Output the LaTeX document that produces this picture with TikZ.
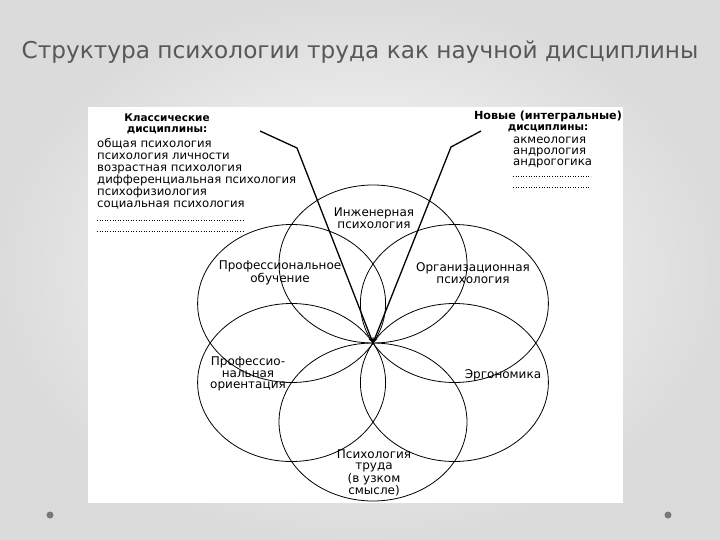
\documentclass[tikz,border=0pt]{standalone}
\usepackage{fontspec}
\setmainfont{DejaVu Sans}
\usetikzlibrary{shapes.geometric, arrows, positioning}
\definecolor{titlegray}{RGB}{88, 88, 88}
\definecolor{dotgray}{RGB}{120, 120, 120}

\begin{document}
\begin{tikzpicture}[x=1pt, y=-1pt,
        petal/.style={ellipse, draw, line width=0.8pt, minimum width=188pt, minimum height=158pt, inner sep=0pt},
        label/.style={font=\fontsize{12}{11.5}\selectfont, align=center, inner sep=0pt},
        listtext/.style={font=\fontsize{11.7}{12}\selectfont, align=left, inner sep=0pt},
        headtext/.style={font=\fontsize{10.5}{11}\selectfont\bfseries, align=center, inner sep=0pt},
        ray/.style={-stealth, line width=1.3pt}
    ]
        % slide background
        \shade[inner color=white, outer color=gray!28] (0,0) rectangle (720,540);
        \useasboundingbox (0,0) rectangle (720,540);
        \node[font=\fontsize{23.2}{26}\selectfont, text=titlegray] (title) at (360,52) {Структура психологии труда как научной дисциплины};
        \fill[white] (88,107) rectangle (623,503);
        \fill[dotgray] (50,515) circle (3.5pt);
        \fill[dotgray] (668,515) circle (3.5pt);

        % six overlapping fields
        \node[petal] (inzh) at (373,264) {};
        \node[petal] (org) at (454.4,303.5) {};
        \node[petal] (ergo) at (454.4,382.5) {};
        \node[petal] (trud) at (373,422) {};
        \node[petal] (orient) at (291.6,382.5) {};
        \node[petal] (obuch) at (291.6,303.5) {};

        \node[label] (inzhtxt) at (374,218) {Инженерная\\психология};
        \node[label] (orgtxt) at (473,273) {Организационная\\психология};
        \node[label] (ergotxt) at (503,375) {Эргономика};
        \node[label] (trudtxt) at (374,473) {Психология\\труда\\(в узком\\смысле)};
        \node[label] (orienttxt) at (248,374) {Профессио-\\нальная\\ориентация};
        \node[label] (obuchtxt) at (280,273) {Профессиональное\\обучение};

        % side lists
        \node[headtext] (classhead) at (167,124) {Классические\\дисциплины:};
        \node[listtext, anchor=north west] (classlist) at (97,138) {общая психология\\психология личности\\возрастная психология\\дифференциальная психология\\психофизиология\\социальная психология};
        \node[headtext] (newhead) at (548,121.5) {{\fontsize{11.2}{11}\selectfont Новые (интегральные)}\\дисциплины:};
        \node[listtext, anchor=north west, font=\fontsize{11.7}{11}\selectfont] (newlist) at (513,137) {акмеология\\андрология\\андрогогика};

        \coordinate (cdotsa) at (97,220);
        \coordinate (cdotsb) at (97,231);
        \draw[dotted, line width=0.6pt] (cdotsa) -- ++(146,0);
        \draw[dotted, line width=0.6pt] (cdotsb) -- ++(146,0);
        \coordinate (ndotsa) at (513,176);
        \coordinate (ndotsb) at (513,187);
        \draw[dotted, line width=0.6pt] (ndotsa) -- ++(78,0);
        \draw[dotted, line width=0.6pt] (ndotsb) -- ++(78,0);

        % rays into the centre
        \coordinate (hub) at (373,343);
        \coordinate (lstart) at (260,131);
        \coordinate (lbend) at (297,148);
        \coordinate (rstart) at (481,131);
        \coordinate (rbend) at (451,147);
        \draw[ray] (lstart) -- (lbend) -- (hub);
        \draw[ray] (rstart) -- (rbend) -- (hub);
    \end{tikzpicture}
\end{document}
